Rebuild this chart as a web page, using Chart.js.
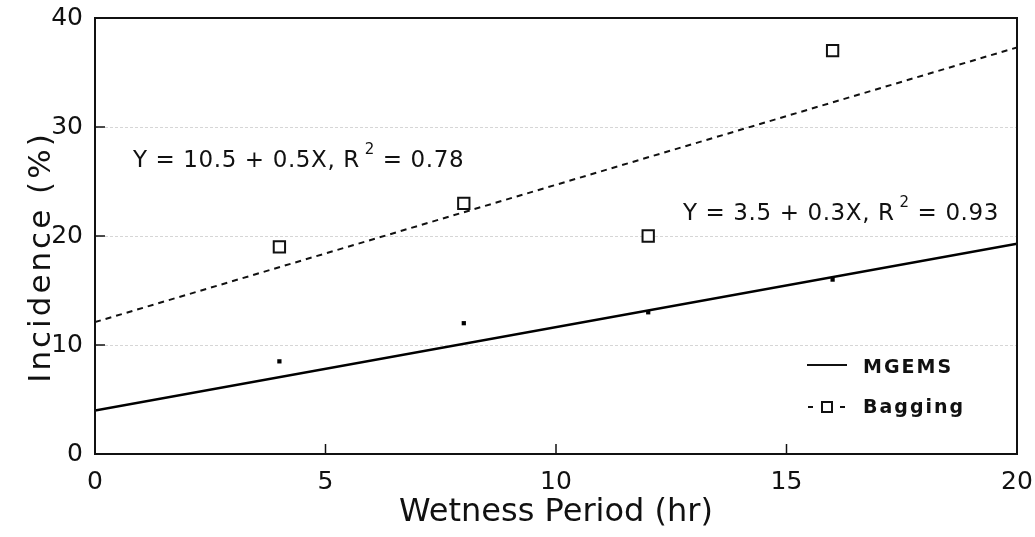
<!DOCTYPE html>
<html><head><meta charset="utf-8">
<script src="https://cdn.jsdelivr.net/npm/chart.js@4.4.1/dist/chart.umd.min.js"></script>
<style>html,body{margin:0;padding:0;background:#fff}#wrap{width:1035px;height:537px}</style>
</head><body><div id="wrap"><canvas id="c" width="1035" height="537"></canvas></div>
<script>
const wetnessHours = [4, 8, 12, 16];
const mgemsIncidence = [8.5, 12, 13, 16];
const baggingIncidence = [19, 23, 20, 37];
const fitX = [0, 20];
const mgemsFit = [4.0, 19.3];
const baggingFit = [12.1, 37.3];
const xTicks = [0, 5, 10, 15, 20];
const yTicks = [0, 10, 20, 30, 40];
const gridValues = [10, 20, 30];
const mgemsEquation = ['Y = 3.5 + 0.3X, R', '2', ' = 0.93'];
const baggingEquation = ['Y = 10.5 + 0.5X, R', '2', ' = 0.78'];
const legendLabels = ['MGEMS', 'Bagging'];
const xTitle = 'Wetness Period (hr)';
const yTitle = 'Incidence (%)';

const FONT = '"DejaVu Sans", "Liberation Sans", Arial, sans-serif';
const toXY = (xs, ys) => xs.map((x, i) => ({x: x, y: ys[i]}));

function drawEquation(ctx, parts, x, y) {
  ctx.save();
  ctx.fillStyle = '#111';
  ctx.textBaseline = 'middle';
  ctx.textAlign = 'left';
  try { ctx.letterSpacing = '0.6px'; } catch (e) {}
  ctx.font = '23px ' + FONT;
  ctx.fillText(parts[0], x, y);
  let w = ctx.measureText(parts[0]).width + 5;
  ctx.font = '15px ' + FONT;
  ctx.fillText(parts[1], x + w, y - 11);
  w += ctx.measureText(parts[1]).width;
  ctx.font = '23px ' + FONT;
  ctx.fillText(parts[2], x + w, y);
  ctx.restore();
}

const framePlugin = {
  id: 'frame',
  beforeDatasetsDraw(chart) {
    const {ctx, chartArea: a, scales} = chart;
    ctx.save();
    ctx.strokeStyle = 'rgba(0,0,0,0.16)';
    ctx.lineWidth = 1;
    ctx.setLineDash([3, 2]);
    gridValues.forEach(v => {
      const py = Math.round(scales.y.getPixelForValue(v)) + 0.5;
      ctx.beginPath(); ctx.moveTo(a.left, py); ctx.lineTo(a.right, py); ctx.stroke();
    });
    ctx.restore();
  },
  afterDatasetsDraw(chart) {
    const {ctx, chartArea: a, scales} = chart;
    ctx.save();
    ctx.strokeStyle = '#111';
    ctx.lineWidth = 2;
    ctx.strokeRect(a.left, a.top, a.right - a.left, a.bottom - a.top);
    ctx.lineWidth = 1.5;
    xTicks.slice(1, -1).forEach(v => {
      const px = scales.x.getPixelForValue(v);
      ctx.beginPath(); ctx.moveTo(px, a.bottom); ctx.lineTo(px, a.bottom - 10); ctx.stroke();
    });
    yTicks.slice(1, -1).forEach(v => {
      const py = scales.y.getPixelForValue(v);
      ctx.beginPath(); ctx.moveTo(a.left, py); ctx.lineTo(a.left + 10, py); ctx.stroke();
    });
    ctx.restore();

    // y axis title
    ctx.save();
    ctx.translate(42, a.top + 239);
    ctx.rotate(-Math.PI / 2);
    ctx.fillStyle = '#111';
    ctx.textAlign = 'center';
    ctx.textBaseline = 'middle';
    try { ctx.letterSpacing = '3px'; } catch (e) {}
    ctx.font = '31px ' + FONT;
    ctx.fillText(yTitle, 0, 0);
    ctx.restore();

    drawEquation(ctx, baggingEquation, a.left + 38, a.top + 143);
    drawEquation(ctx, mgemsEquation, a.left + 588, a.top + 196);

    // legend
    ctx.save();
    const lx = a.right - 210, ly1 = a.bottom - 89, ly2 = a.bottom - 47;
    ctx.strokeStyle = '#111';
    ctx.lineWidth = 2;
    ctx.beginPath(); ctx.moveTo(lx, ly1); ctx.lineTo(lx + 40, ly1); ctx.stroke();
    ctx.beginPath(); ctx.moveTo(lx + 1, ly2); ctx.lineTo(lx + 6, ly2); ctx.stroke();
    ctx.beginPath(); ctx.moveTo(lx + 33, ly2); ctx.lineTo(lx + 38, ly2); ctx.stroke();
    ctx.strokeRect(lx + 15, ly2 - 5, 10, 10);
    ctx.fillStyle = '#111';
    ctx.textBaseline = 'middle';
    ctx.textAlign = 'left';
    try { ctx.letterSpacing = '2px'; } catch (e) {}
    ctx.font = 'bold 19px ' + FONT;
    ctx.fillText(legendLabels[0], lx + 56, ly1 + 3);
    ctx.fillText(legendLabels[1], lx + 56, ly2 + 1);
    ctx.restore();
  }
};

function zeroPad(s) { s.paddingTop = 0; s.paddingBottom = 0; s.paddingLeft = 0; s.paddingRight = 0; }

new Chart(document.getElementById('c'), {
  type: 'scatter',
  data: {
    datasets: [
      {label: legendLabels[0], data: toXY(wetnessHours, mgemsIncidence), pointStyle: 'rect', pointRadius: 3, backgroundColor: '#000', borderWidth: 0},
      {label: legendLabels[1], data: toXY(wetnessHours, baggingIncidence), pointStyle: 'rect', pointRadius: 8, borderWidth: 2, borderColor: '#111', backgroundColor: '#fff'},
      {label: legendLabels[0] + ' fit', data: toXY(fitX, mgemsFit), showLine: true, pointRadius: 0, borderColor: '#000', borderWidth: 2.5},
      {label: legendLabels[1] + ' fit', data: toXY(fitX, baggingFit), showLine: true, pointRadius: 0, borderColor: '#111', borderWidth: 2, borderDash: [6, 5]}
    ]
  },
  options: {
    responsive: false,
    animation: false,
    devicePixelRatio: 1,
    layout: {padding: {top: 18, right: 18, left: 0, bottom: 0}},
    plugins: {legend: {display: false}, tooltip: {enabled: false}},
    scales: {
      x: {
        type: 'linear', min: 0, max: 20,
        afterBuildTicks: s => { s.ticks = xTicks.map(v => ({value: v})); },
        afterFit: s => { s.height = 83; zeroPad(s); },
        grid: {display: false, drawTicks: false},
        border: {display: false},
        ticks: {font: {family: FONT, size: 25}, color: '#111', padding: 13},
        title: {display: true, text: xTitle, font: {family: FONT, size: 32}, color: '#111', padding: {top: 0, bottom: 5}}
      },
      y: {
        type: 'linear', min: 0, max: 40,
        afterBuildTicks: s => { s.ticks = yTicks.map(v => ({value: v})); },
        afterFit: s => { s.width = 95; zeroPad(s); },
        grid: {display: false, drawTicks: false},
        border: {display: false},
        ticks: {font: {family: FONT, size: 25}, color: '#111', padding: 12},
        title: {display: false, text: yTitle}
      }
    }
  },
  plugins: [framePlugin]
});
</script></body></html>
